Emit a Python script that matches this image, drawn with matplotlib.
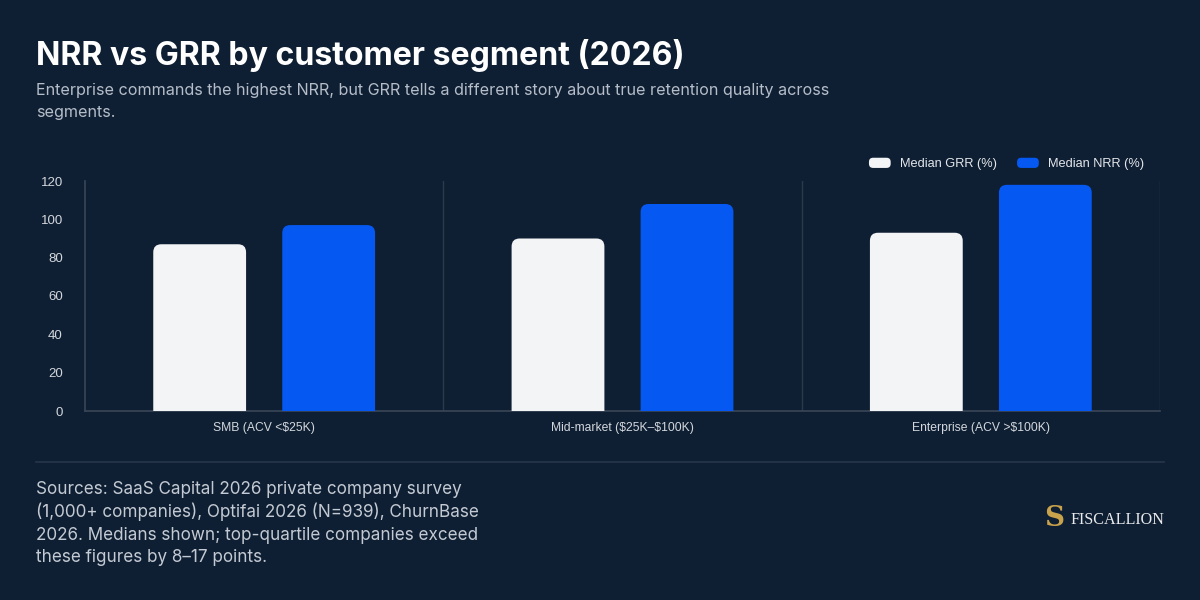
import matplotlib
matplotlib.use("Agg")
import matplotlib.pyplot as plt
import numpy as np
from matplotlib.patches import FancyBboxPatch
from matplotlib.legend_handler import HandlerPatch
from matplotlib.patches import Patch

# DATA
segments = ['SMB (ACV <\\$25K)', 'Mid-market (\\$25K\u2013\\$100K)', 'Enterprise (ACV >\\$100K)']
grr = [87, 90, 93]
nrr = [97, 108, 118]
series_names = ['Median GRR (%)', 'Median NRR (%)']
yticks = [0, 20, 40, 60, 80, 100, 120]

# STYLE
BG = '#0f1f33'
GRR_COLOR = '#f3f4f6'
NRR_COLOR = '#0559f2'
LINE = '#2c394b'
TICK = '#d3d7dd'

W, H = 1200, 600
fig = plt.figure(figsize=(12, 6), dpi=100)
fig.patch.set_facecolor(BG)

# TITLE
fig.text(36 / W, 1 - 56 / H, 'NRR vs GRR by customer segment (2026)', fontsize=23.1,
         fontweight='bold', color='white', family='Inter', va='center')
fig.text(36 / W, 1 - 90 / H,
         'Enterprise commands the highest NRR, but GRR tells a different story about true retention quality across',
         fontsize=11.6, color='#b5bdc9', family='Inter', va='center')
fig.text(36 / W, 1 - 113 / H, 'segments.', fontsize=11.6, color='#b5bdc9', family='Inter', va='center')

# AXES
ax = fig.add_axes([85 / W, (H - 411) / H, 1075 / W, 230 / H])
ax.set_facecolor(BG)
x = np.arange(len(segments))
bw = 0.259
off = 0.18
b1 = ax.bar(x - off, grr, bw, color=GRR_COLOR, label=series_names[0])
b2 = ax.bar(x + off, nrr, bw, color=NRR_COLOR, label=series_names[1])

# swap plain bars for rounded-top ones
px_x = 1075 / 3.0
px_y = 230 / 120.0
r = 8 / px_x
aspect = px_x / px_y
for bars in (b1, b2):
    for rect in bars:
        bx, by = rect.get_x(), rect.get_y()
        bwid, bh = rect.get_width(), rect.get_height()
        fc = rect.get_facecolor()
        rect.set_visible(False)
        p = FancyBboxPatch((bx, by - 10), bwid, bh + 10,
                           boxstyle='round,pad=0,rounding_size=%f' % r,
                           mutation_aspect=aspect, fc=fc, ec='none', zorder=3)
        ax.add_patch(p)

ax.set_xlim(-0.5, 2.5)
ax.set_ylim(0, 120)
ax.set_yticks(yticks)
ax.set_xticks(x)
ax.set_xticklabels(segments)
ax.set_xticks([0.5, 1.5, 2.5], minor=True)
ax.grid(which='minor', axis='x', color=LINE, linewidth=1)
ax.tick_params(which='minor', length=0)
ax.tick_params(axis='x', which='major', length=0, colors=TICK, labelsize=8.7, pad=8)
ax.tick_params(axis='y', which='major', length=0, colors=TICK, labelsize=9.5, pad=16)
for lab in ax.get_xticklabels() + ax.get_yticklabels():
    lab.set_family('Liberation Sans')
for s in ['top', 'right']:
    ax.spines[s].set_visible(False)
for s in ['left', 'bottom']:
    ax.spines[s].set_color('#3a4658')
    ax.spines[s].set_linewidth(1.2)


class RoundHandler(HandlerPatch):
    def create_artists(self, legend, orig_handle, xdescent, ydescent, width, height, fontsize, trans):
        p = FancyBboxPatch((-xdescent, -ydescent), width, height,
                           boxstyle='round,pad=0,rounding_size=3',
                           fc=orig_handle.get_facecolor(), ec='none', transform=trans)
        return [p]


handles = [Patch(color=GRR_COLOR), Patch(color=NRR_COLOR)]
leg = fig.legend(handles, series_names, loc='center right', bbox_to_anchor=(1156 / W, 1 - 164 / H),
                 ncol=2, frameon=False, labelcolor='#e4e7eb',
                 handler_map={Patch: RoundHandler()}, handlelength=1.7, handleheight=0.85,
                 handletextpad=0.75, columnspacing=1.55, prop={'family': 'Liberation Sans', 'size': 9.2})

# FOOTER
fig.add_artist(plt.Line2D([36 / W, 1164 / W], [1 - 462 / H, 1 - 462 / H], color='#26354a', linewidth=1.2))
footer = ['Sources: SaaS Capital 2026 private company survey',
          '(1,000+ companies), Optifai 2026 (N=939), ChurnBase',
          '2026. Medians shown; top-quartile companies exceed',
          'these figures by 8\u201317 points.']
for i, line in enumerate(footer):
    fig.text(36 / W, 1 - (489 + 23 * i) / H, line, fontsize=12.3, color='#c4cad3',
             family='Inter', va='center')

# LOGO
fig.text(1054 / W, 1 - 518 / H, 'S', fontsize=20, fontweight='bold', color='#c9a24c',
         family='DejaVu Serif', ha='center', va='center')
fig.text(1070 / W, 1 - 520 / H, 'FISCALLION', fontsize=11.6, color='#e9eaec',
         family='Liberation Serif', va='center')

fig.savefig('out.png', dpi=100, facecolor=BG)
